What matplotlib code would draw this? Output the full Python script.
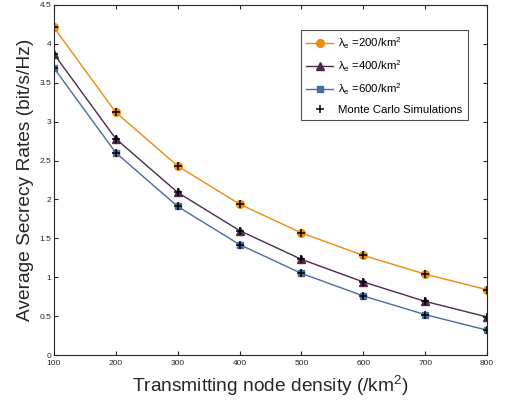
import numpy as np
import matplotlib
matplotlib.use('Agg')
import matplotlib.pyplot as plt

plt.rcParams['font.family'] = ['Liberation Sans', 'DejaVu Sans']
plt.rcParams['mathtext.fontset'] = 'custom'
plt.rcParams['mathtext.rm'] = 'Liberation Sans'
plt.rcParams['mathtext.it'] = 'Liberation Sans:italic'

density = [100, 200, 300, 400, 500, 600, 700, 800]
rate_200 = [4.21, 3.12, 2.43, 1.94, 1.57, 1.28, 1.04, 0.84]
rate_400 = [3.87, 2.78, 2.09, 1.60, 1.23, 0.94, 0.69, 0.49]
rate_600 = [3.69, 2.60, 1.91, 1.42, 1.05, 0.76, 0.52, 0.32]
labels = [r'$\mathrm{\lambda}_{\mathrm{e}}$ =200/km$^{\mathrm{2}}$',
          r'$\mathrm{\lambda}_{\mathrm{e}}$ =400/km$^{\mathrm{2}}$',
          r'$\mathrm{\lambda}_{\mathrm{e}}$ =600/km$^{\mathrm{2}}$']

fig = plt.figure(figsize=(5.08, 4.04), dpi=100)
ax = fig.add_axes([0.106, 0.121, 0.853, 0.867])

c1 = '#EE8A0E'
c2 = '#4E2A4E'
c3 = '#4B6C9E'
ax.plot(density, rate_200, color=c1, lw=1, marker='o', ms=5.5, mfc=c1, mec=c1, label=labels[0])
ax.plot(density, rate_400, color=c2, lw=1, marker='^', ms=6, mfc=c2, mec=c2, label=labels[1])
ax.plot(density, rate_600, color=c3, lw=1, marker='s', ms=4.8, mfc=c3, mec=c3, label=labels[2])
for r in (rate_200, rate_400, rate_600):
    ax.plot(density, r, ls='none', marker='+', ms=5.5, mew=1.1, color='k')
ax.plot([], [], ls='none', marker='+', ms=5.5, mew=1.1, color='k', label='Monte Carlo Simulations')

ax.set_xlim(100, 800)
ax.set_ylim(0, 4.5)
ax.set_xticks(np.arange(100, 801, 100))
ax.set_yticks(np.arange(0, 4.51, 0.5))
ax.set_yticklabels(['0', '0.5', '1', '1.5', '2', '2.5', '3', '3.5', '4', '4.5'])
ax.tick_params(direction='in', top=True, right=True, labelsize=6, length=3, colors='#262626')
ax.tick_params(axis='x', pad=3.5)
ax.tick_params(axis='y', pad=2)
for s in ax.spines.values():
    s.set_color('#262626')
    s.set_linewidth(0.8)

ax.set_xlabel('Transmitting node density (/km$^{\\mathrm{2}}$)', fontsize=13.8, color='#262626', labelpad=5)
ax.set_ylabel('Average Secrecy Rates (bit/s/Hz)', fontsize=13.8, color='#262626', labelpad=4)

leg = ax.legend(loc='upper right', bbox_to_anchor=(0.955, 0.927), fontsize=8.2,
                frameon=True, fancybox=False, edgecolor='#262626', handlelength=2.3,
                borderpad=0.45, labelspacing=0.65, handletextpad=0.5, borderaxespad=0)
leg.get_frame().set_linewidth(0.8)

fig.savefig('out.png', dpi=100)
